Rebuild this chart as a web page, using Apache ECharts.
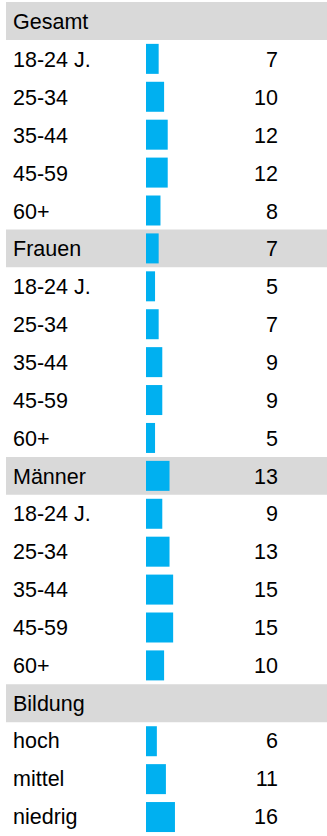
<!DOCTYPE html>
<html>
<head>
<meta charset="utf-8">
<script src="https://cdn.jsdelivr.net/npm/echarts@6/dist/echarts.min.js"></script>
<style>
  html, body { margin: 0; padding: 0; background: #fff; }
  #chart { width: 327px; height: 836px; }
</style>
</head>
<body>
<div id="chart"></div>
<script>
// Row labels, top to bottom
const categories = [
  'Gesamt', '18-24 J.', '25-34', '35-44', '45-59', '60+',
  'Frauen', '18-24 J.', '25-34', '35-44', '45-59', '60+',
  'Männer', '18-24 J.', '25-34', '35-44', '45-59', '60+',
  'Bildung', 'hoch', 'mittel', 'niedrig'
];
// Share per row (null = no value shown)
const values = [
  null, 7, 10, 12, 12, 8,
  7, 5, 7, 9, 9, 5,
  13, 9, 13, 15, 15, 10,
  null, 6, 11, 16
];
// Group heading rows get a shaded band
const headerRows = [
  true, false, false, false, false, false,
  true, false, false, false, false, false,
  true, false, false, false, false, false,
  true, false, false, false
];

const FONT = '"Liberation Sans", Arial, sans-serif';
const FONT_SIZE = 21.5;
const chart = echarts.init(document.getElementById('chart'), null, { renderer: 'svg' });

chart.setOption({
  animation: false,
  grid: [
    // shaded heading bands
    { left: 6, right: 0, top: 2, height: 836 },
    // bars
    { left: 146, width: 193, top: 2, height: 836 },
    // row and value labels (text sits a touch below the row centre)
    { left: 6, right: 0, top: 3.5, height: 836 }
  ],
  xAxis: [
    { gridIndex: 0, type: 'value', min: 0, max: 1, show: false },
    { gridIndex: 1, type: 'value', min: 0, max: 100, show: false },
    { gridIndex: 2, type: 'value', min: 0, max: 1, show: false }
  ],
  yAxis: [
    { gridIndex: 0, type: 'category', inverse: true, data: categories, show: false },
    { gridIndex: 1, type: 'category', inverse: true, data: categories, show: false },
    {
      gridIndex: 2, type: 'category', inverse: true, position: 'left', z: 10,
      data: categories,
      axisLine: { show: false }, axisTick: { show: false }, splitLine: { show: false },
      axisLabel: {
        inside: true, margin: 7, align: 'left',
        color: '#000', fontFamily: FONT, fontSize: FONT_SIZE
      }
    },
    {
      gridIndex: 2, type: 'category', inverse: true, position: 'right', z: 10,
      data: categories,
      axisLine: { show: false }, axisTick: { show: false }, splitLine: { show: false },
      axisLabel: {
        inside: true, margin: 49, align: 'right',
        color: '#000', fontFamily: FONT, fontSize: FONT_SIZE,
        formatter: (v, i) => values[i] == null ? '' : String(values[i])
      }
    }
  ],
  series: [
    {
      type: 'bar', xAxisIndex: 0, yAxisIndex: 0, silent: true,
      barWidth: '100%', z: 0,
      itemStyle: { color: '#d9d9d9' },
      data: headerRows.map(h => h ? 1 : null)
    },
    {
      type: 'bar', xAxisIndex: 1, yAxisIndex: 1, silent: true,
      barWidth: 30, z: 1,
      itemStyle: { color: '#00b0f0' },
      data: values
    }
  ]
});
</script>
</body>
</html>
